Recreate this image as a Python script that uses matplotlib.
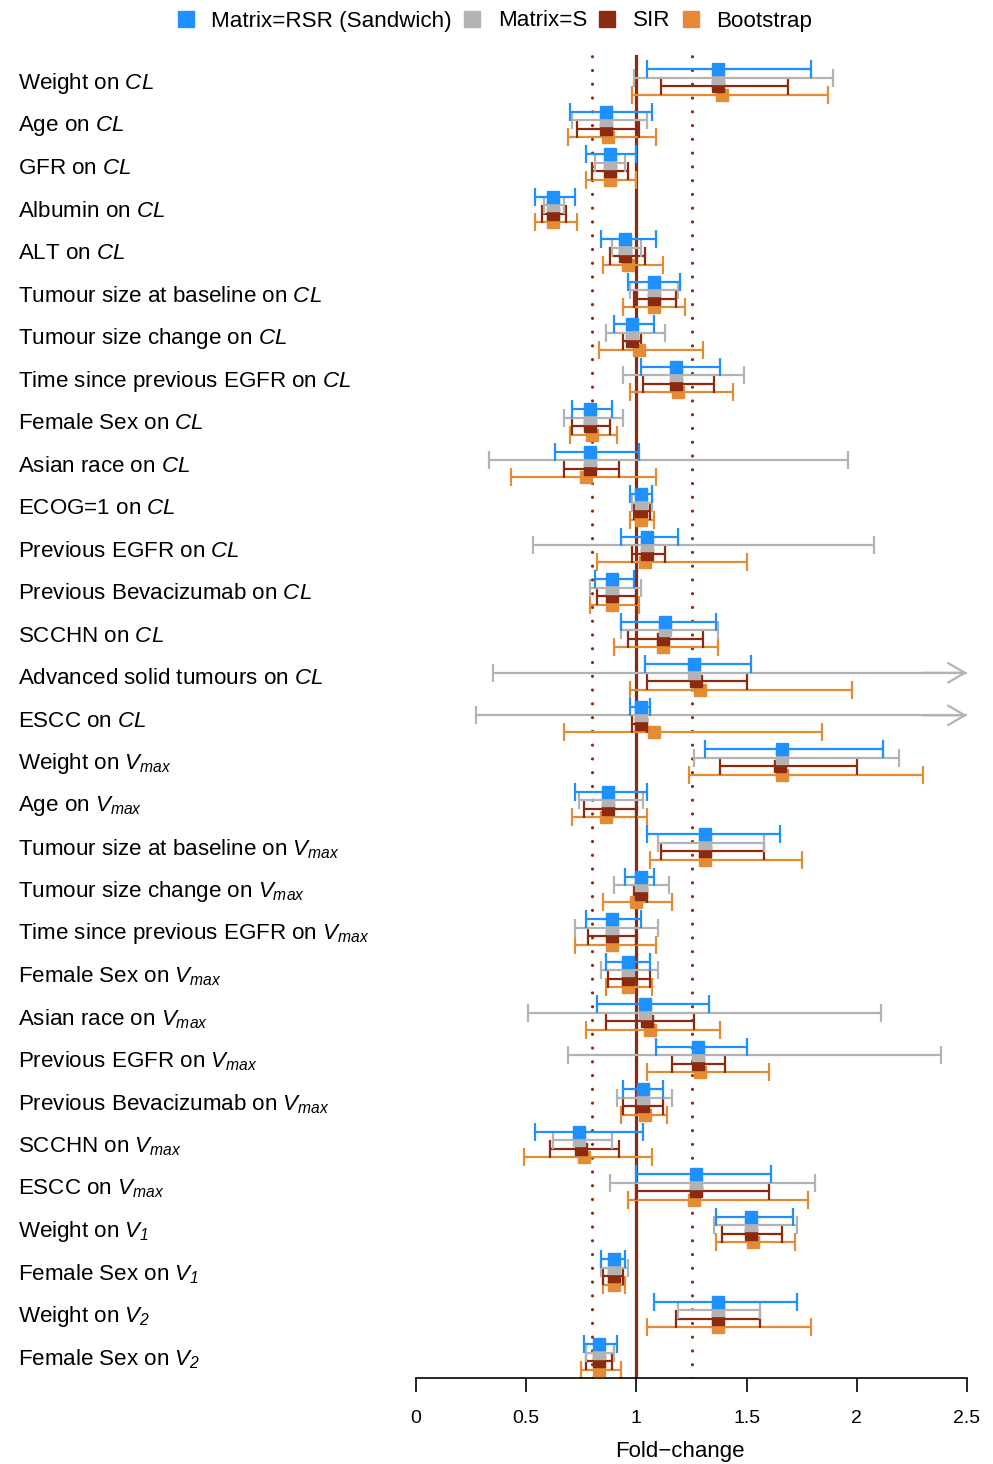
import numpy as np
import matplotlib
matplotlib.use("Agg")
import matplotlib.pyplot as plt
from matplotlib.lines import Line2D
from matplotlib.transforms import blended_transform_factory

plt.rcParams['font.family'] = ['Liberation Sans', 'DejaVu Sans']
plt.rcParams['mathtext.fontset'] = 'custom'
plt.rcParams['mathtext.rm'] = 'Liberation Sans:italic'
plt.rcParams['mathtext.it'] = 'Liberation Sans:italic'
plt.rcParams['mathtext.bf'] = 'Liberation Sans:bold'

labels = [
    r"Weight on $CL$", r"Age on $CL$", r"GFR on $CL$", r"Albumin on $CL$", r"ALT on $CL$",
    r"Tumour size at baseline on $CL$", r"Tumour size change on $CL$",
    r"Time since previous EGFR on $CL$", r"Female Sex on $CL$", r"Asian race on $CL$",
    r"ECOG=1 on $CL$", r"Previous EGFR on $CL$", r"Previous Bevacizumab on $CL$",
    r"SCCHN on $CL$", r"Advanced solid tumours on $CL$", r"ESCC on $CL$",
    r"Weight on $V_{max}$", r"Age on $V_{max}$", r"Tumour size at baseline on $V_{max}$",
    r"Tumour size change on $V_{max}$", r"Time since previous EGFR on $V_{max}$",
    r"Female Sex on $V_{max}$", r"Asian race on $V_{max}$", r"Previous EGFR on $V_{max}$",
    r"Previous Bevacizumab on $V_{max}$", r"SCCHN on $V_{max}$", r"ESCC on $V_{max}$",
    r"Weight on $V_{1}$", r"Female Sex on $V_{1}$",
    r"Weight on $V_{2}$", r"Female Sex on $V_{2}$",
]

INF = np.inf  # upper limit beyond axis (drawn as arrow)

# Matrix=RSR (Sandwich)
rsr_est = [1.37, 0.86, 0.88, 0.62, 0.95, 1.08, 0.98, 1.18, 0.79, 0.79, 1.02, 1.05, 0.89, 1.13, 1.26, 1.02,
           1.66, 0.87, 1.31, 1.02, 0.89, 0.96, 1.04, 1.28, 1.03, 0.74, 1.27, 1.52, 0.90, 1.37, 0.83]
rsr_lo = [1.05, 0.70, 0.77, 0.54, 0.84, 0.96, 0.90, 1.02, 0.71, 0.63, 0.97, 0.93, 0.81, 0.93, 1.04, 0.97,
          1.31, 0.72, 1.05, 0.95, 0.77, 0.86, 0.82, 1.09, 0.94, 0.54, 1.00, 1.36, 0.84, 1.08, 0.76]
rsr_hi = [1.79, 1.07, 1.00, 0.72, 1.09, 1.20, 1.08, 1.38, 0.89, 1.01, 1.07, 1.19, 0.99, 1.36, 1.52, 1.06,
          2.12, 1.05, 1.65, 1.08, 1.02, 1.06, 1.33, 1.50, 1.12, 1.03, 1.61, 1.71, 0.95, 1.73, 0.91]

# Matrix=S
s_est = [1.37, 0.86, 0.88, 0.62, 0.95, 1.08, 0.98, 1.18, 0.79, 0.79, 1.02, 1.05, 0.89, 1.13, 1.26, 1.02,
         1.66, 0.87, 1.31, 1.02, 0.89, 0.96, 1.04, 1.28, 1.03, 0.74, 1.27, 1.52, 0.90, 1.37, 0.83]
s_lo = [0.99, 0.71, 0.81, 0.58, 0.89, 0.97, 0.86, 0.94, 0.67, 0.33, 0.98, 0.53, 0.79, 0.93, 0.35, 0.27,
        1.26, 0.74, 1.10, 0.90, 0.72, 0.84, 0.51, 0.69, 0.91, 0.62, 0.88, 1.35, 0.84, 1.19, 0.77]
s_hi = [1.89, 1.05, 0.95, 0.67, 1.02, 1.19, 1.13, 1.49, 0.94, 1.96, 1.07, 2.08, 1.02, 1.37, INF, INF,
        2.19, 1.03, 1.58, 1.15, 1.10, 1.10, 2.11, 2.38, 1.16, 0.89, 1.81, 1.73, 0.96, 1.56, 0.90]

# SIR
sir_est = [1.37, 0.86, 0.88, 0.62, 0.95, 1.08, 0.98, 1.18, 0.79, 0.79, 1.02, 1.05, 0.89, 1.12, 1.27, 1.02,
           1.65, 0.87, 1.31, 1.02, 0.89, 0.96, 1.05, 1.28, 1.03, 0.75, 1.27, 1.52, 0.90, 1.37, 0.83]
sir_lo = [1.11, 0.73, 0.80, 0.57, 0.88, 0.99, 0.94, 1.03, 0.71, 0.67, 0.99, 0.98, 0.82, 0.96, 1.05, 0.98,
          1.38, 0.76, 1.11, 0.99, 0.78, 0.87, 0.86, 1.16, 0.94, 0.61, 1.00, 1.39, 0.85, 1.18, 0.77]
sir_hi = [1.69, 1.01, 0.96, 0.68, 1.04, 1.18, 1.02, 1.35, 0.88, 0.92, 1.06, 1.13, 1.00, 1.30, 1.50, 1.05,
          2.00, 1.00, 1.58, 1.05, 1.00, 1.06, 1.26, 1.40, 1.12, 0.92, 1.60, 1.66, 0.94, 1.56, 0.89]

# Bootstrap
boot_est = [1.39, 0.87, 0.88, 0.62, 0.96, 1.08, 1.01, 1.19, 0.80, 0.77, 1.02, 1.04, 0.89, 1.12, 1.29, 1.08,
            1.66, 0.86, 1.31, 1.00, 0.89, 0.96, 1.06, 1.29, 1.04, 0.76, 1.26, 1.53, 0.90, 1.37, 0.83]
boot_lo = [0.98, 0.69, 0.77, 0.54, 0.85, 0.94, 0.83, 0.97, 0.70, 0.43, 0.97, 0.82, 0.79, 0.90, 0.97, 0.67,
           1.24, 0.71, 1.06, 0.85, 0.72, 0.86, 0.77, 1.05, 0.93, 0.49, 0.96, 1.36, 0.85, 1.05, 0.75]
boot_hi = [1.87, 1.09, 1.00, 0.73, 1.12, 1.22, 1.30, 1.44, 0.91, 1.09, 1.08, 1.50, 1.01, 1.37, 1.98, 1.84,
           2.30, 1.05, 1.75, 1.16, 1.09, 1.07, 1.38, 1.60, 1.14, 1.07, 1.78, 1.72, 0.95, 1.79, 0.93]

series_names = ["Matrix=RSR (Sandwich)", "Matrix=S", "SIR", "Bootstrap"]
colors = ["#1E90FF", "#B3B3B3", "#8B2A0E", "#E38B35"]
ref_line = 1.0
ref_bounds = [0.8, 1.25]
xticks = [0, 0.5, 1, 1.5, 2, 2.5]
xticklabels = ["0", "0.5", "1", "1.5", "2", "2.5"]

W, H = 993, 1464
fig = plt.figure(figsize=(W / 100, H / 100), dpi=100)
ax = fig.add_axes([416 / W, 1 - 1378 / H, 551 / W, 1323 / H])

n = len(labels)
rows = np.arange(n)
xmax = 2.5
offsets = [-0.295, -0.098, 0.098, 0.295]

ax.set_xlim(0, xmax)
ax.set_ylim(n - 1 + 0.494, -0.635)

# reference lines
ax.axvline(ref_line, color="#8B2A0E", lw=2.3, zorder=1.5)
for b in ref_bounds:
    ax.axvline(b, color="#8B2A0E", lw=2.3, ls=(0, (0.01, 4.3)), dash_capstyle='round', zorder=1.2)

data = [(rsr_est, rsr_lo, rsr_hi), (s_est, s_lo, s_hi), (sir_est, sir_lo, sir_hi), (boot_est, boot_lo, boot_hi)]
# draw bootstrap first, blue last
for k in [3, 2, 1, 0]:
    est, lo, hi = (np.array(a, dtype=float) for a in data[k])
    y = rows + offsets[k]
    col = colors[k]
    z = 2 + (3 - k) * 0.1
    hi_c = np.minimum(hi, xmax)
    ax.hlines(y, lo, hi_c, color=col, lw=1.6, zorder=z)
    ax.plot(lo, y, ls='none', marker='|', ms=12.5, mew=1.6, color=col, zorder=z)
    fin = np.isfinite(hi)
    ax.plot(hi[fin], y[fin], ls='none', marker='|', ms=12.5, mew=1.6, color=col, zorder=z)
    for yy in y[~fin]:
        ax.annotate('', xy=(xmax, yy), xytext=(xmax - 0.2, yy),
                    arrowprops=dict(arrowstyle='->,head_length=0.6,head_width=0.35',
                                    color=col, lw=1.6, shrinkA=0, shrinkB=0, mutation_scale=20),
                    annotation_clip=False, zorder=z)
    ax.plot(est, y, ls='none', marker='s', ms=9, color=col, zorder=4 + (3 - k) * 0.1)

# row labels
trans = blended_transform_factory(fig.transFigure, ax.transData)
for i, lab in enumerate(labels):
    ax.text(18 / W, i + 0.045, lab, transform=trans, ha='left', va='center', fontsize=16.1)

# axis styling
for sp in ['top', 'right', 'left']:
    ax.spines[sp].set_visible(False)
ax.spines['bottom'].set_bounds(0, xmax)
ax.spines['bottom'].set_linewidth(1.2)
ax.set_yticks([])
ax.set_xticks(xticks)
ax.set_xticklabels(xticklabels, fontsize=14)
ax.tick_params(axis='x', length=10, width=1.2, pad=13)
fig.text(680 / W, 1 - 1451 / H, "Fold\u2212change", ha='center', va='center', fontsize=16)

handles = [Line2D([], [], ls='none', marker='s', ms=11, color=c) for c in colors]
fig.legend(handles, series_names, loc='center', bbox_to_anchor=(494 / W, 1 - 21 / H), ncol=4,
           frameon=False, fontsize=16.1, handlelength=0.9, handletextpad=0.7, columnspacing=0.45,
           borderaxespad=0)

fig.savefig("out.png", dpi=100)
